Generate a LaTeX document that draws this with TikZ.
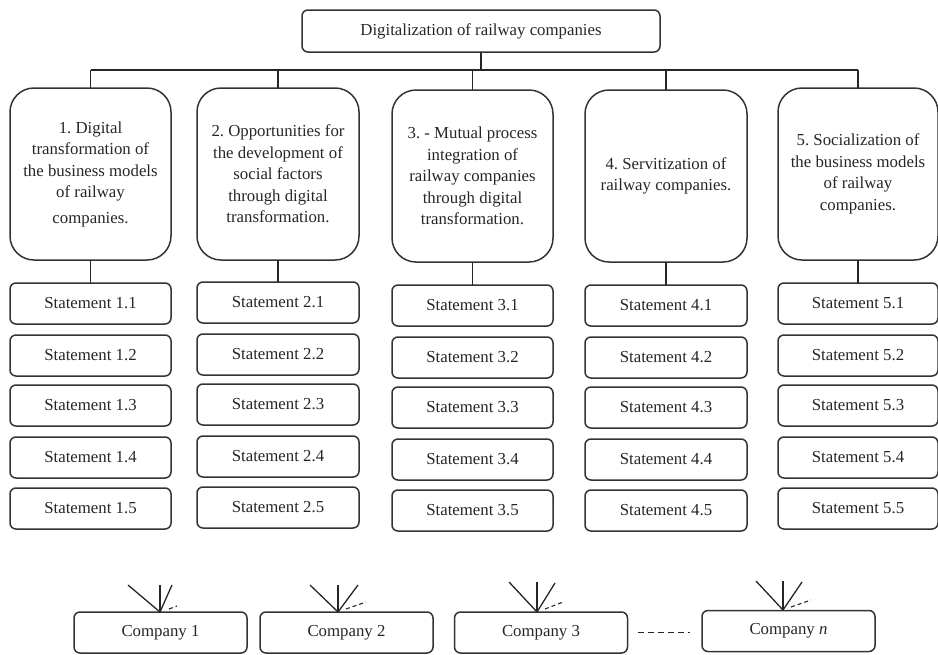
\documentclass[tikz,border=0pt]{standalone}
\usepackage{fontspec}
\setmainfont{Liberation Serif}
\frenchspacing
\begin{document}
\begin{tikzpicture}[x=1pt,y=-1pt,
  every node/.style={font=\fontsize{16.8}{21.5}\selectfont, text=black!85},
  boxline/.style={draw=black!80, line width=1.5pt},
  topbox/.style={boxline, rounded corners=6pt, minimum width=358pt, minimum height=42pt, inner sep=0pt, outer sep=0pt},
  bigbox/.style={boxline, rounded corners=24pt, minimum height=172pt, inner sep=0pt, outer sep=0pt, align=center},
  stmt/.style={boxline, rounded corners=6pt, minimum height=41pt, inner sep=0pt, outer sep=0pt},
  comp/.style={boxline, rounded corners=6pt, minimum width=173pt, minimum height=41pt, inner sep=0pt, outer sep=0pt},
  conn/.style={draw=black!85, line width=1.4pt},
  fan/.style={draw=black!85, line width=1.3pt},
  fandash/.style={draw=black!85, line width=1.1pt, dash pattern=on 4pt off 3pt}
]
\useasboundingbox (0,0) rectangle (938,654);

% top
\node[topbox] (top) at (481,31) {Digitalization of railway companies};

% columns
\node[bigbox, minimum width=161pt] (b1) at (90.5,174)
  {1. Digital\\ transformation of\\ the business models\\ of railway\\[4pt] companies.};
\node[bigbox, minimum width=162pt] (b2) at (278,174)
  {2. Opportunities for\\ the development of\\ social factors\\ through digital\\ transformation.};
\node[bigbox, minimum width=161pt] (b3) at (472.5,176)
  {3. - Mutual process\\ integration of\\ railway companies\\ through digital\\ transformation.};
\node[bigbox, minimum width=162pt] (b4) at (666,176)
  {4. Servitization of\\ railway companies.};
\node[bigbox, minimum width=160pt] (b5) at (858,174)
  {5. Socialization of\\ the business models\\ of railway\\ companies.};

% bus
\coordinate (bus) at (481,70);
\coordinate (busL) at (b1.north |- bus);
\coordinate (busR) at (b5.north |- bus);
\draw[conn] (top.south) -- (bus);
\draw[conn] (busL) -- (busR);
\foreach \i in {1,...,5} { \draw[conn] (b\i.north |- bus) -- (b\i.north); }

% statements
\foreach \c/\cx/\w/\t in {1/90.5/161/283, 2/278/162/282, 3/472.5/161/285, 4/666/162/285, 5/858/160/283} {
  \foreach \r/\dy in {1/0, 2/52, 3/102, 4/154, 5/205} {
    \node[stmt, minimum width=\w pt] (s\c\r) at (\cx,\t+\dy+20.5) {Statement \c.\r};
  }
  \draw[conn] (b\c.south) -- (s\c1.north);
}

% companies
\node[comp] (c1) at (160.5,632.5) {Company 1};
\node[comp] (c2) at (346.5,632.5) {Company 2};
\node[comp] (c3) at (541,632.5) {Company 3};
\node[comp] (cn) at (788.5,631) {Company \textit{n}};

\coordinate (f1) at (160,612);
\coordinate (f2) at (338,612);
\coordinate (f3) at (537,612);
\coordinate (fn) at (783,610);

\draw[fan] (f1) -- ++(-32,-27); \draw[fan] (f1) -- ++(0,-27); \draw[fan] (f1) -- ++(12,-27);
\draw[fandash] (f1) ++(9,-3) -- ++(8,-3);
\draw[fan] (f2) -- ++(-28,-27); \draw[fan] (f2) -- ++(0,-27); \draw[fan] (f2) -- ++(20,-27);
\draw[fandash] (f2) ++(8,-3) -- ++(20,-7);
\draw[fan] (f3) -- ++(-28,-30); \draw[fan] (f3) -- ++(0,-30); \draw[fan] (f3) -- ++(18,-29);
\draw[fandash] (f3) ++(8,-3) -- ++(18,-7);
\draw[fan] (fn) -- ++(-27,-29); \draw[fan] (fn) -- ++(0,-29); \draw[fan] (fn) -- ++(19,-28);
\draw[fandash] (fn) ++(8,-3) -- ++(20,-7);

\draw[conn, dash pattern=on 6pt off 4pt] ([xshift=10pt]c3.east) -- ([xshift=-12pt]cn.west |- c3.east);
\end{tikzpicture}
\end{document}
